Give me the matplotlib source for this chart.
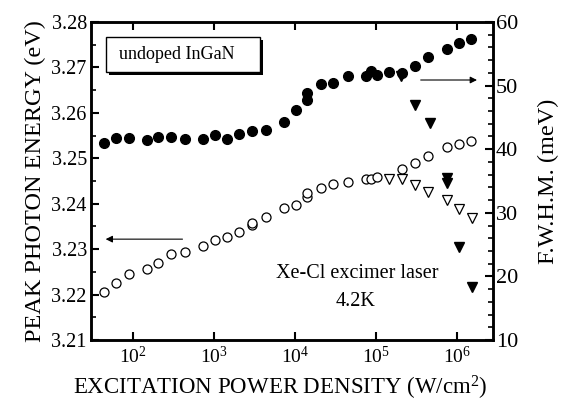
import numpy as np
import matplotlib
matplotlib.use("Agg")
import matplotlib.pyplot as plt
from matplotlib.patches import Rectangle
from matplotlib.ticker import FixedLocator, MultipleLocator, NullLocator, FixedFormatter

plt.rcParams['font.family'] = ['Liberation Serif', 'DejaVu Serif']
plt.rcParams['mathtext.fontset'] = 'custom'
plt.rcParams['mathtext.rm'] = 'Liberation Serif'
plt.rcParams['mathtext.it'] = 'Liberation Serif:italic'

# FWHM (right axis) - filled circles
fwhm_c_x = [44.7, 62, 89, 149, 207, 297, 445, 728, 1030, 1463, 2055, 2946, 4383, 7364,
            10170, 13900, 13900, 20650, 29500, 45200, 74700, 85300, 102800, 144500,
            207000, 299000, 436000, 736000, 1.04e6, 1.48e6]
fwhm_c_y = [41.0, 41.8, 41.8, 41.45, 41.97, 41.97, 41.56, 41.66, 42.3, 41.66, 42.35, 42.9,
            42.97, 44.2, 46.2, 47.7, 48.9, 50.25, 50.36, 51.56, 51.46, 52.34, 51.6, 52.19,
            52.03, 53.08, 54.5, 55.7, 56.7, 57.3]

# FWHM (right axis) - filled triangles
fwhm_t_x = [205000, 299000, 458000, 736000, 736000, 1.05e6, 1.5e6]
fwhm_t_y = [51.5, 46.95, 44.17, 35.4, 34.7, 24.7, 18.3]

# peak energy (left axis) - open circles
pe_c_x = [44.7, 62, 89, 149, 207, 297, 445, 728, 1030, 1463, 2055, 2946, 2946, 4383, 7364,
          10170, 13900, 13900, 20650, 29500, 45200, 74700, 85300, 102800, 207000, 299000,
          436000, 736000, 1.04e6, 1.48e6]
pe_c_y = [3.2206, 3.2225, 3.2245, 3.2257, 3.2269, 3.2289, 3.2294, 3.2308, 3.2320, 3.2326,
          3.2338, 3.2353, 3.2358, 3.2371, 3.2391, 3.2397, 3.2415, 3.2423, 3.2435, 3.2443,
          3.2448, 3.2454, 3.2454, 3.2459, 3.2477, 3.2490, 3.2506, 3.2524, 3.2531, 3.2537]

# peak energy (left axis) - open triangles
pe_t_x = [144500, 207000, 299000, 436000, 736000, 1.05e6, 1.5e6]
pe_t_y = [3.2454, 3.2454, 3.2441, 3.2426, 3.2408, 3.2388, 3.2368]

xticks = [1e2, 1e3, 1e4, 1e5, 1e6]
xticklabels = ['$10^2$', '$10^3$', '$10^4$', '$10^5$', '$10^6$']

fig = plt.figure(figsize=(5.64, 4.08), dpi=100)
ax = fig.add_axes([91/564, 1-340/408, (493-91)/564, (340-22)/408])
ax2 = ax.twinx()

ax.set_xscale('log')
ax.set_xlim(30.7, 2.75e6)
ax.set_ylim(3.21, 3.28)
ax2.set_ylim(10, 60)

ax.plot(pe_c_x, pe_c_y, 'o', mfc='white', mec='black', mew=0.9, ms=6.5, ls='none')
ax.plot(pe_t_x, pe_t_y, 'v', mfc='white', mec='black', mew=0.9, ms=7, ls='none')
ax2.plot(fwhm_c_x, fwhm_c_y, 'o', color='black', ms=7, ls='none')
ax2.plot(fwhm_t_x, fwhm_t_y, 'v', color='black', ms=7.5, ls='none')

ax.xaxis.set_major_locator(FixedLocator(xticks))
ax.xaxis.set_major_formatter(FixedFormatter(xticklabels))
ax.xaxis.set_minor_locator(NullLocator())
ax.yaxis.set_major_locator(MultipleLocator(0.01))
ax.yaxis.set_minor_locator(MultipleLocator(0.005))
ax.yaxis.set_major_formatter(matplotlib.ticker.FormatStrFormatter('%.2f'))
ax2.yaxis.set_major_locator(MultipleLocator(10))
ax2.yaxis.set_minor_locator(MultipleLocator(2))

ax.tick_params(axis='x', which='major', direction='in', top=True, length=6, width=1.5,
               labelsize=14, pad=4)
ax.tick_params(axis='y', which='major', direction='in', length=6, width=1.5, labelsize=14.5,
               pad=3)
ax.tick_params(axis='y', which='minor', direction='in', length=3.5, width=1.2)
ax2.tick_params(axis='y', which='major', direction='in', length=6, width=1.5, labelsize=16,
                pad=2)
ax2.tick_params(axis='y', which='minor', direction='in', length=3.5, width=1.2)

for a in (ax, ax2):
    for s in a.spines.values():
        s.set_linewidth(1.8)

ax.set_xlabel('EXCITATION POWER DENSITY (W/cm$^2$)', fontsize=16.5, labelpad=1)
ax.xaxis.set_label_coords(0.47, -0.105)
ax.set_ylabel('PEAK PHOTON ENERGY (eV)', fontsize=17.5, labelpad=4)
ax2.set_ylabel('F.W.H.M. (meV)', fontsize=17.5, labelpad=14)

# label box with a drop shadow
ax.add_patch(Rectangle((0.0448, 0.834), 0.383, 0.11, transform=ax.transAxes,
                       fc='black', ec='none', zorder=4))
ax.add_patch(Rectangle((0.0373, 0.843), 0.383, 0.11, transform=ax.transAxes,
                       fc='white', ec='black', lw=1.0, zorder=5))
ax.text(0.213, 0.898, 'undoped InGaN', transform=ax.transAxes, fontsize=13,
        ha='center', va='center', zorder=6)
ax.text(0.662, 0.21, 'Xe-Cl excimer laser', transform=ax.transAxes, fontsize=14.5,
        ha='center', va='center')
ax.text(0.659, 0.12, '4.2K', transform=ax.transAxes, fontsize=14.5,
        ha='center', va='center')

# arrows
ax.annotate('', xy=(43, 3.2322), xytext=(445, 3.2322),
            arrowprops=dict(arrowstyle='-|>', color='black', lw=0.8, mutation_scale=10))
ax2.annotate('', xy=(1.89e6, 50.88), xytext=(3.27e5, 50.88),
             arrowprops=dict(arrowstyle='-|>', color='black', lw=0.8, mutation_scale=10))

fig.savefig('out.png', dpi=100)
